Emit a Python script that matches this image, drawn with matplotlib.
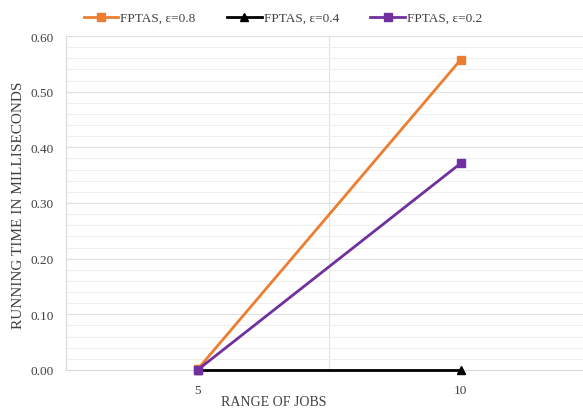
import matplotlib
matplotlib.use("Agg")
import matplotlib.pyplot as plt
from matplotlib.ticker import MultipleLocator

categories = ["5", "10"]
series_names = ["FPTAS, ε=0.8", "FPTAS, ε=0.4", "FPTAS, ε=0.2"]
eps08 = [0.001, 0.557]
eps04 = [0.0, 0.0]
eps02 = [0.0, 0.371]
colors = ["#ED7D31", "#000000", "#7030A0"]
markers = ["s", "^", "s"]

plt.rcParams['font.family'] = ['Liberation Serif', 'DejaVu Serif']
fig = plt.figure(figsize=(5.83, 4.10), dpi=100)
W, H = 583, 410
x0, x1, ytop, ybot = 66, 592, 37, 371
ax = fig.add_axes([x0 / W, (H - ybot) / H, (x1 - x0) / W, (ybot - ytop) / H])

xs = list(range(len(categories)))
for vals, name, c, m in zip([eps08, eps04, eps02], series_names, colors, markers):
    ax.plot(xs, vals, color=c, lw=2, marker=m, ms=6, label=name, clip_on=False, zorder=3)

ax.set_xlim(-0.5, 1.5)
ax.set_ylim(0, 0.6)
ax.yaxis.set_minor_locator(MultipleLocator(0.02))
ax.set_yticks([i * 0.1 for i in range(7)])
ax.set_yticklabels([f"{i*0.1:.2f}" for i in range(7)], fontsize=9.5, color="#404040")
ax.set_xticks(xs)
ax.set_xticklabels(categories, fontsize=9.5, color="#404040")
ax.set_xticks([0.5], minor=True)
ax.tick_params(axis='both', which='both', length=0)
ax.tick_params(axis='y', pad=9)
ax.tick_params(axis='x', pad=10)
ax.grid(True, axis='y', which='major', color="#E0E0E0", lw=0.8)
ax.grid(True, axis='y', which='minor', color="#EEEEEE", lw=0.8)
ax.grid(True, axis='x', which='minor', color="#E0E0E0", lw=0.8)
ax.set_axisbelow(True)
for s in ["top", "right"]:
    ax.spines[s].set_visible(False)
ax.spines["left"].set_color("#D9D9D9")
ax.spines["bottom"].set_color("#D9D9D9")

fig.text(19 / W, 1 - 205 / H, "RUNNING TIME IN MILLISECONDS", rotation=90,
         ha="center", va="center", fontsize=11, color="#404040")
fig.text(274 / W, 1 - 403 / H, "RANGE OF JOBS", ha="center", va="center",
         fontsize=10, color="#404040")

fig.legend(loc="center", bbox_to_anchor=(283 / W, 1 - 19 / H), ncol=3, frameon=False,
           fontsize=9.5, handlelength=2.6, handletextpad=0.15, columnspacing=2.4,
           labelcolor="#404040")

fig.savefig("out.png", dpi=100)
